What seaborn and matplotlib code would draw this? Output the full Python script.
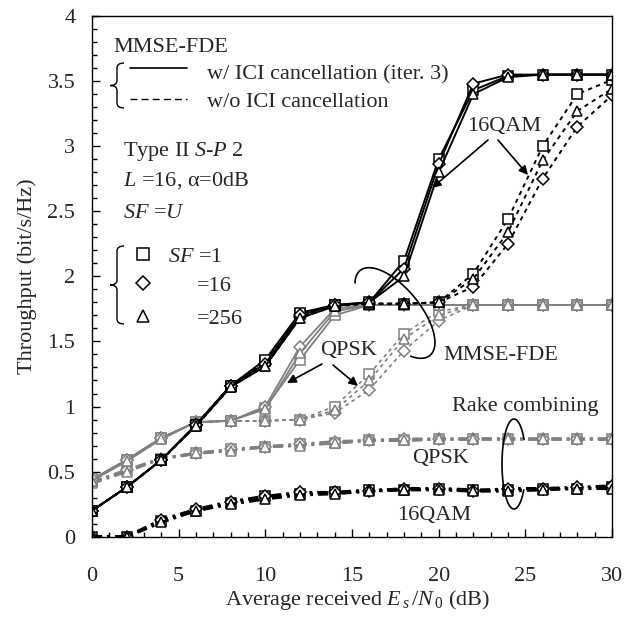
import numpy as np
import pandas as pd
import matplotlib
matplotlib.use('Agg')
import matplotlib.pyplot as plt
import seaborn as sns
from matplotlib.lines import Line2D
from matplotlib.path import Path
from matplotlib.patches import PathPatch, FancyArrowPatch
from matplotlib.ticker import MultipleLocator, FuncFormatter

# ---- data ----
snr = [0, 2, 4, 6, 8, 10, 12, 14, 16, 18, 20, 22, 24, 26, 28, 30]
sf_markers = ['s', 'D', '^']

# MMSE-FDE, 16QAM, w/ ICI cancellation (iter. 3)
qam_ici_sf1 = [0.20, 0.38, 0.59, 0.86, 1.16, 1.36, 1.72, 1.78, 1.80, 2.12, 2.90, 3.43, 3.54, 3.55, 3.55, 3.55]
qam_ici_sf16 = [0.20, 0.38, 0.59, 0.86, 1.16, 1.33, 1.70, 1.78, 1.80, 2.06, 2.86, 3.48, 3.55, 3.55, 3.55, 3.55]
qam_ici_sf256 = [0.20, 0.38, 0.59, 0.85, 1.15, 1.31, 1.68, 1.77, 1.80, 2.00, 2.80, 3.40, 3.53, 3.55, 3.55, 3.55]
# MMSE-FDE, 16QAM, w/o ICI cancellation
qam_noici_sf1 = [0.20, 0.38, 0.59, 0.86, 1.16, 1.35, 1.71, 1.78, 1.79, 1.79, 1.80, 2.02, 2.44, 3.00, 3.40, 3.51]
qam_noici_sf16 = [0.20, 0.38, 0.59, 0.86, 1.16, 1.33, 1.69, 1.78, 1.79, 1.79, 1.80, 1.92, 2.25, 2.75, 3.15, 3.39]
qam_noici_sf256 = [0.20, 0.38, 0.59, 0.85, 1.15, 1.31, 1.68, 1.77, 1.79, 1.79, 1.80, 1.98, 2.34, 2.89, 3.27, 3.44]
# MMSE-FDE, QPSK, w/ ICI cancellation
qpsk_ici_sf1 = [0.44, 0.59, 0.76, 0.88, 0.89, 0.99, 1.36, 1.70, 1.78, 1.78, 1.78, 1.78, 1.78, 1.78, 1.78, 1.78]
qpsk_ici_sf16 = [0.44, 0.59, 0.76, 0.88, 0.89, 1.00, 1.46, 1.75, 1.78, 1.78, 1.78, 1.78, 1.78, 1.78, 1.78, 1.78]
qpsk_ici_sf256 = [0.43, 0.58, 0.75, 0.88, 0.89, 0.98, 1.41, 1.73, 1.78, 1.78, 1.78, 1.78, 1.78, 1.78, 1.78, 1.78]
# MMSE-FDE, QPSK, w/o ICI cancellation
qpsk_noici_sf1 = [0.44, 0.59, 0.76, 0.88, 0.89, 0.89, 0.90, 1.00, 1.25, 1.56, 1.73, 1.78, 1.78, 1.78, 1.78, 1.78]
qpsk_noici_sf16 = [0.44, 0.59, 0.76, 0.88, 0.89, 0.89, 0.90, 0.95, 1.13, 1.43, 1.66, 1.78, 1.78, 1.78, 1.78, 1.78]
qpsk_noici_sf256 = [0.43, 0.58, 0.75, 0.88, 0.89, 0.89, 0.90, 0.97, 1.20, 1.52, 1.70, 1.78, 1.78, 1.78, 1.78, 1.78]
# Rake combining
rake_qpsk_sf1 = [0.42, 0.51, 0.60, 0.64, 0.67, 0.69, 0.71, 0.72, 0.74, 0.74, 0.75, 0.75, 0.75, 0.75, 0.75, 0.75]
rake_qpsk_sf16 = [0.42, 0.51, 0.60, 0.64, 0.67, 0.69, 0.71, 0.73, 0.74, 0.75, 0.75, 0.75, 0.75, 0.75, 0.75, 0.75]
rake_qpsk_sf256 = [0.41, 0.50, 0.60, 0.64, 0.66, 0.69, 0.70, 0.72, 0.74, 0.74, 0.75, 0.75, 0.75, 0.75, 0.75, 0.75]
rake_qam_sf1 = [0.00, 0.00, 0.12, 0.20, 0.26, 0.31, 0.33, 0.34, 0.36, 0.36, 0.37, 0.36, 0.36, 0.37, 0.37, 0.38]
rake_qam_sf16 = [0.00, 0.00, 0.13, 0.21, 0.27, 0.31, 0.34, 0.34, 0.35, 0.37, 0.37, 0.35, 0.37, 0.37, 0.38, 0.39]
rake_qam_sf256 = [0.00, 0.00, 0.11, 0.20, 0.25, 0.29, 0.32, 0.33, 0.35, 0.36, 0.36, 0.35, 0.35, 0.36, 0.37, 0.37]

W, H = 638, 617

sns.set_style('ticks')
plt.rcParams['font.family'] = ['Liberation Serif', 'DejaVu Serif']
plt.rcParams['mathtext.fontset'] = 'custom'
plt.rcParams['mathtext.rm'] = 'Liberation Serif'
plt.rcParams['mathtext.it'] = 'Liberation Serif:italic'
plt.rcParams['font.size'] = 16

fig = plt.figure(figsize=(W / 100, H / 100), dpi=100)
ax = fig.add_axes([92 / W, (H - 536.7) / H, 520 / W, 520.7 / H])

GRAY = '0.5'
solid = '-'
dashed = (0, (2.2, 2.2))
dashdot = (0, (3.3, 1.7, 0.9, 1.7))


def draw(vals, color, ls, lw, marker, ms):
    sns.lineplot(x=snr, y=vals, ax=ax, color=color, linestyle=ls, linewidth=lw,
                 marker=marker, markersize=ms, markerfacecolor='white',
                 markeredgecolor=color, markeredgewidth=1.1,
                 estimator=None, legend=False)


msz = {'s': 7, 'D': 5.8, '^': 7.5}

# rake first (bottom)
for vals, mk in zip([rake_qpsk_sf1, rake_qpsk_sf16, rake_qpsk_sf256], sf_markers):
    draw(vals, GRAY, dashdot, 2.2, mk, msz[mk])
for vals, mk in zip([rake_qam_sf1, rake_qam_sf16, rake_qam_sf256], sf_markers):
    draw(vals, 'black', dashdot, 2.2, mk, msz[mk])
# QPSK MMSE-FDE
for vals, mk in zip([qpsk_noici_sf1, qpsk_noici_sf16, qpsk_noici_sf256], sf_markers):
    draw(vals, GRAY, dashed, 1.2, mk, msz[mk])
for vals, mk in zip([qpsk_ici_sf1, qpsk_ici_sf16, qpsk_ici_sf256], sf_markers):
    draw(vals, GRAY, solid, 1.3, mk, msz[mk])
# 16QAM MMSE-FDE
for vals, mk in zip([qam_noici_sf1, qam_noici_sf16, qam_noici_sf256], sf_markers):
    draw(vals, 'black', dashed, 1.4, mk, msz[mk])
for vals, mk in zip([qam_ici_sf1, qam_ici_sf16, qam_ici_sf256], sf_markers):
    draw(vals, 'black', solid, 1.4, mk, msz[mk])

ax.set_xlim(0, 30)
ax.set_ylim(0, 4)
ax.xaxis.set_major_locator(MultipleLocator(5))
ax.xaxis.set_minor_locator(MultipleLocator(1))
ax.yaxis.set_major_locator(MultipleLocator(0.5))
ax.yaxis.set_minor_locator(MultipleLocator(0.1))
ax.yaxis.set_major_formatter(FuncFormatter(lambda v, p: '%g' % v))
ax.tick_params(axis='both', which='both', direction='in', top=False, right=False,
               labelsize=16, width=1, color='black')
ax.tick_params(axis='x', which='major', length=6, pad=22)
ax.tick_params(axis='y', which='major', length=6, pad=12)
ax.tick_params(which='minor', length=3.5)
for sp in ax.spines.values():
    sp.set_linewidth(1.0)
    sp.set_color('black')

ax.set_xlabel(r'Average received $E_{\,s}\,/N_{\,0}$ (dB)', fontsize=16)
ax.set_ylabel('Throughput (bit/s/Hz)', fontsize=16)
ax.xaxis.set_label_coords(0.51, -0.098)
ax.yaxis.set_label_coords(-0.106, 0.5)


# ---- annotations, placed in image pixel coordinates ----
def P(x, y):
    return (x / W, 1 - y / H)


def text(x, y, s, size=16):
    fig.text(*P(x, y), s, fontsize=size, ha='left', va='baseline')


def seg(xs, ys, **kw):
    fx = [x / W for x in xs]
    fy = [1 - y / H for y in ys]
    fig.add_artist(Line2D(fx, fy, transform=fig.transFigure, **kw))


def brace(x_tip, x_end, y_top, y_bot):
    x_mid = (x_tip + x_end) / 2
    yc = (y_top + y_bot) / 2
    r = 5
    pts = [(x_end, y_top), (x_mid, y_top), (x_mid, y_top + r),
           (x_mid, yc - r), (x_mid, yc), (x_tip, yc),
           (x_mid, yc), (x_mid, yc + r),
           (x_mid, y_bot - r), (x_mid, y_bot), (x_end, y_bot)]
    codes = [Path.MOVETO, Path.CURVE3, Path.CURVE3, Path.LINETO, Path.CURVE3, Path.CURVE3,
             Path.CURVE3, Path.CURVE3, Path.LINETO, Path.CURVE3, Path.CURVE3]
    verts = [P(x, y) for x, y in pts]
    fig.add_artist(PathPatch(Path(verts, codes), transform=fig.transFigure,
                             fill=False, lw=1.0, edgecolor='black'))


def ellipse(cx, cy, a, b, ang, t1, t2):
    t = np.radians(np.linspace(t1, t2, 200))
    ca, sa = np.cos(np.radians(ang)), np.sin(np.radians(ang))
    ex = a * np.cos(t)
    ey = b * np.sin(t)
    xs = cx + ex * ca - ey * sa
    ys = cy - (ex * sa + ey * ca)
    seg(xs, ys, color='black', lw=1.2)


def arrow(x0, y0, x1, y1):
    fig.add_artist(FancyArrowPatch(
        P(x0, y0), P(x1, y1), transform=fig.transFigure, arrowstyle='-|>',
        mutation_scale=13, lw=1.2, color='black', shrinkA=0, shrinkB=0))


text(113, 52, 'MMSE-FDE')
brace(110, 124, 63, 108)
seg([130, 187], [68, 68], color='black', lw=1.2)
seg([130, 187], [99, 99], color='black', lw=1.0, linestyle=(0, (5, 3)))
text(207, 79, 'w/ ICI cancellation (iter. 3)')
text(207, 107, 'w/o ICI cancellation')
text(123, 156, r'Type II $S$-$P$ 2')
text(123, 186, r'$L$ =16, α=0dB')
text(123, 218, r'$SF$ =$U$')
brace(110, 124, 246, 324)
for yy, mk in zip([254, 283, 316], sf_markers):
    fig.add_artist(Line2D([143 / W], [1 - yy / H], transform=fig.transFigure,
                          marker=mk, markersize=msz[mk] + 1, markerfacecolor='white',
                          markeredgecolor='black', markeredgewidth=1.1))
text(168, 262, r'$SF$ =1')
text(197, 291, '=16')
text(197, 324, '=256')

text(467, 131, '16QAM')
arrow(488, 140, 432, 188)
arrow(498, 140, 528, 175)
text(320, 355, 'QPSK')
arrow(322, 364, 287, 383)
arrow(333, 365, 358, 386)

ellipse(395, 313, 55, 25, -50.5, -38, 208)
text(443, 360, 'MMSE-FDE')
text(452, 411, 'Rake combining')
ellipse(514, 464, 12, 45, 0, 33, 325)
text(412, 463, 'QPSK')
text(397, 520, '16QAM')

fig.savefig('out.png', dpi=100)
